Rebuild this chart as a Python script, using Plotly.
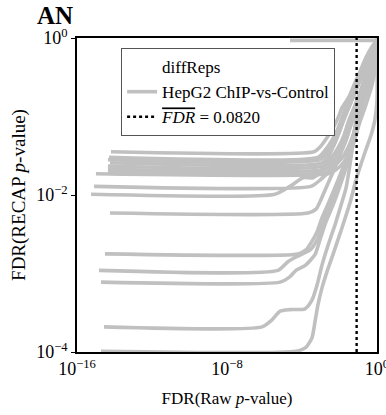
import plotly.graph_objects as go

# Dotted reference line: mean FDR cut-off
fdr_threshold = 0.0820

# Each replicate comparison: log10 FDR of the raw p-value (x) against
# log10 FDR of the RECAP-recalibrated p-value (y)
rep01_log_raw = [-14.72, -4.32, -3.79, -3.47, -3.31, -3.15, -2.93, -2.67, -2.35, -1.87, -1.44, -1.12, -0.69, -0.32, -0.11, 0.0, 0.0]
rep01_log_recap = [-3.99, -3.99, -3.94, -3.82, -3.62, -3.40, -3.18, -2.98, -2.76, -2.42, -2.10, -1.81, -1.49, -1.24, -1.04, -0.79, 0.0]

rep02_log_raw = [-14.56, -6.13, -5.60, -5.17, -4.64, -3.84, -3.47, -3.20, -2.93, -2.61, -2.24, -1.92, -1.65, -1.33, -1.07, -0.64, -0.27, 0.0]
rep02_log_recap = [-3.68, -3.68, -3.59, -3.48, -3.46, -3.45, -3.34, -3.15, -2.89, -2.64, -2.38, -2.13, -1.91, -1.43, -0.96, -0.54, -0.22, 0.0]

rep03_log_raw = [-14.72, -5.17, -4.64, -4.32, -3.84, -3.31, -3.04, -2.72, -2.35, -1.87, -1.44, -1.07, -0.80, -0.48, -0.05]
rep03_log_recap = [-3.11, -3.11, -3.04, -2.96, -2.90, -2.76, -2.57, -2.34, -2.13, -1.81, -1.49, -1.11, -0.79, -0.47, -0.03]

rep04_log_raw = [-14.83, -5.28, -4.75, -4.32, -3.57, -3.15, -2.83, -2.40, -1.97, -1.55, -1.12, -0.80, -0.37, 0.0]
rep04_log_recap = [-2.96, -2.96, -2.85, -2.79, -2.70, -2.55, -2.32, -2.06, -1.81, -1.55, -1.24, -0.85, -0.41, -0.09]

rep05_log_raw = [-14.51, -4.21, -3.79, -3.52, -3.20, -2.93, -2.51, -2.08, -1.65, -1.33, -1.01, -0.69, -0.37, -0.05]
rep05_log_recap = [-2.75, -2.75, -2.70, -2.61, -2.47, -2.29, -2.06, -1.81, -1.55, -1.30, -0.98, -0.66, -0.34, -0.05]

rep06_log_raw = [-14.24, -3.68, -3.25, -2.99, -2.72, -2.35, -1.97, -1.65, -1.33, -1.01, -0.69, -0.32, 0.0]
rep06_log_recap = [-2.23, -2.23, -2.18, -2.06, -1.91, -1.71, -1.49, -1.30, -1.04, -0.79, -0.54, -0.25, -0.03]

rep07_log_raw = [-15.25, -5.44, -4.64, -3.95, -3.41, -3.04, -2.67, -2.29, -1.97, -1.60, -1.23, -0.80, -0.37, 0.0]
rep07_log_recap = [-1.99, -1.99, -1.89, -1.78, -1.78, -1.71, -1.55, -1.36, -1.17, -0.94, -0.73, -0.47, -0.22, -0.03]

rep08_log_raw = [-15.09, -3.52, -3.04, -2.51, -2.13, -1.81, -1.49, -1.17, -0.80, -0.43, 0.0]
rep08_log_recap = [-1.89, -1.89, -1.81, -1.68, -1.49, -1.30, -1.11, -0.89, -0.64, -0.34, -0.05]

rep09_log_raw = [-14.19, -3.36, -3.04, -2.67, -2.35, -2.08, -1.87, -1.60, -1.33, -1.01, -0.64, -0.27, 0.0]
rep09_log_recap = [-1.45, -1.45, -1.39, -1.27, -1.15, -1.02, -0.89, -0.79, -0.69, -0.54, -0.34, -0.15, -0.03]

rep10_log_raw = [-14.29, -3.15, -2.77, -2.40, -2.08, -1.81, -1.55, -1.23, -0.91, -0.59, -0.27, 0.0]
rep10_log_recap = [-1.52, -1.52, -1.43, -1.30, -1.15, -0.98, -0.79, -0.60, -0.43, -0.25, -0.11, -0.03]

rep11_log_raw = [-14.35, -3.04, -2.67, -2.29, -1.97, -1.71, -1.39, -1.07, -0.75, -0.37, 0.0]
rep11_log_recap = [-1.55, -1.55, -1.45, -1.32, -1.15, -0.98, -0.79, -0.60, -0.41, -0.22, -0.05]

rep12_log_raw = [-14.24, -2.93, -2.61, -2.29, -2.03, -1.76, -1.44, -1.17, -0.85, -0.48, 0.0]
rep12_log_recap = [-1.59, -1.59, -1.49, -1.36, -1.21, -1.02, -0.85, -0.69, -0.51, -0.28, -0.03]

rep13_log_raw = [-14.35, -2.83, -2.45, -2.08, -1.76, -1.49, -1.23, -0.91, -0.59, -0.27, 0.0]
rep13_log_recap = [-1.63, -1.63, -1.53, -1.40, -1.24, -1.04, -0.89, -0.69, -0.47, -0.22, -0.05]

rep14_log_raw = [-14.35, -2.77, -2.40, -1.97, -1.65, -1.39, -1.12, -0.80, -0.48, -0.16, 0.0]
rep14_log_recap = [-1.67, -1.67, -1.58, -1.45, -1.30, -1.11, -0.92, -0.73, -0.51, -0.25, -0.09]

rep15_log_raw = [-14.35, -2.72, -2.29, -1.87, -1.55, -1.28, -1.01, -0.69, -0.37, -0.11, 0.0]
rep15_log_recap = [-1.71, -1.71, -1.63, -1.53, -1.40, -1.24, -1.02, -0.79, -0.56, -0.28, -0.05]

rep16_log_raw = [-14.99, -2.61, -2.19, -1.76, -1.44, -1.17, -0.91, -0.59, -0.27, -0.05, 0.0]
rep16_log_recap = [-1.73, -1.73, -1.68, -1.58, -1.43, -1.27, -1.07, -0.85, -0.60, -0.31, -0.05]

rep17_log_raw = [-4.64, 0.0]
rep17_log_recap = [-0.03, -0.03]

curves = [
    (rep01_log_raw, rep01_log_recap), (rep02_log_raw, rep02_log_recap),
    (rep03_log_raw, rep03_log_recap), (rep04_log_raw, rep04_log_recap),
    (rep05_log_raw, rep05_log_recap), (rep06_log_raw, rep06_log_recap),
    (rep07_log_raw, rep07_log_recap), (rep08_log_raw, rep08_log_recap),
    (rep09_log_raw, rep09_log_recap), (rep10_log_raw, rep10_log_recap),
    (rep11_log_raw, rep11_log_recap), (rep12_log_raw, rep12_log_recap),
    (rep13_log_raw, rep13_log_recap), (rep14_log_raw, rep14_log_recap),
    (rep15_log_raw, rep15_log_recap), (rep16_log_raw, rep16_log_recap),
    (rep17_log_raw, rep17_log_recap),
]

x_tickvals = [1e-16, 1e-8, 1.0]
x_ticktext = ["10<sup>−16</sup>", "10<sup>−8</sup>", "10<sup>0</sup>"]
y_tickvals = [1e-4, 1e-2, 1.0]
y_ticktext = ["10<sup>−4</sup>", "10<sup>−2</sup>", "10<sup>0</sup>"]

GRAY = "#c0c0c0"
FONT = "Liberation Serif"

fig = go.Figure()

# Legend title-like entry with no visible line
fig.add_trace(go.Scatter(
    x=[None], y=[None], mode="lines", name="diffReps",
    line=dict(color="rgba(0,0,0,0)", width=2), hoverinfo="skip",
))

for i, (lx, ly) in enumerate(curves):
    fig.add_trace(go.Scatter(
        x=[10 ** v for v in lx], y=[10 ** v for v in ly],
        mode="lines", line=dict(color=GRAY, width=3.6, shape="spline", smoothing=0.6),
        name="HepG2 ChIP-vs-Control", legendgroup="hepg2",
        showlegend=(i == 0),
    ))

fig.add_trace(go.Scatter(
    x=[fdr_threshold, fdr_threshold], y=[1e-4, 1.0], mode="lines",
    line=dict(color="black", width=2.4, dash="dot"),
    name='<span style="text-decoration:overline"><i>FDR</i></span> = 0.0820',
))

axis_common = dict(
    type="log", showgrid=False, zeroline=False, showline=True, mirror=True,
    linecolor="black", linewidth=1.5, layer="below traces",
    tickfont=dict(family=FONT, size=18, color="black"),
    ticklabeloverflow="allow", automargin=False,
)

fig.update_layout(
    width=386, height=415,
    margin=dict(l=77, r=9, t=38, b=63),
    paper_bgcolor="white", plot_bgcolor="white",
    font=dict(family=FONT, size=17, color="black"),
    xaxis=dict(
        **axis_common, range=[-16, 0], tickmode="array",
        tickvals=x_tickvals, ticktext=x_ticktext, ticks="", ticklabelstandoff=0,
        title=dict(text="FDR(Raw <i>p</i>-value)", standoff=14,
                   font=dict(family=FONT, size=17)),
    ),
    yaxis=dict(
        **axis_common, range=[-4, 0], tickmode="array",
        tickvals=y_tickvals, ticktext=y_ticktext, ticks="outside", ticklen=4,
        tickwidth=1, tickcolor="black",
        title=dict(text="FDR(RECAP <i>p</i>-value)", standoff=6,
                   font=dict(family=FONT, size=19)),
    ),
    legend=dict(
        x=0.147, y=0.968, xanchor="left", yanchor="top",
        bgcolor="white", bordercolor="#555555", borderwidth=1,
        font=dict(family=FONT, size=17, color="black"),
        itemwidth=30, tracegroupgap=0,
    ),
    annotations=[dict(
        text="<b>AN</b>", xref="paper", yref="paper", x=-0.14, y=1.12,
        xanchor="left", yanchor="top", showarrow=False,
        font=dict(family=FONT, size=25, color="black"),
    )],
)

fig.write_html("out.html")
